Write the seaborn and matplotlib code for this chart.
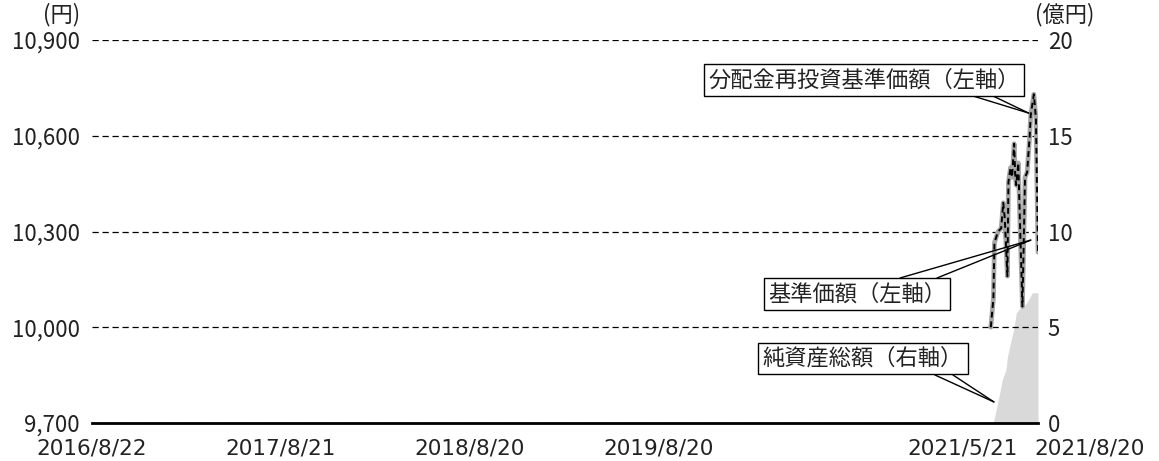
import matplotlib
matplotlib.use("Agg")
import matplotlib.pyplot as plt
import matplotlib.transforms as mtransforms
import matplotlib.ticker as mticker
import seaborn as sns
import pandas as pd

# ---------------- data ----------------
nav_dates = ["2021-05-21", "2021-05-26", "2021-05-28", "2021-06-04", "2021-06-10",
             "2021-06-14", "2021-06-17", "2021-06-22", "2021-06-24", "2021-06-28",
             "2021-07-01", "2021-07-05", "2021-07-07", "2021-07-09", "2021-07-13",
             "2021-07-16", "2021-07-21", "2021-07-26", "2021-07-30", "2021-08-04",
             "2021-08-06", "2021-08-12", "2021-08-16", "2021-08-18", "2021-08-20"]
nav_values = [10000, 10090, 10265, 10300, 10310,
              10390, 10340, 10160, 10455, 10500,
              10470, 10575, 10480, 10445, 10515,
              10340, 10065, 10470, 10485, 10600,
              10665, 10730, 10655, 10445, 10235]
# no distributions paid -> reinvested NAV equals NAV
nav_reinvested_values = list(nav_values)

asset_dates = ["2021-05-25", "2021-05-27", "2021-06-06", "2021-06-12", "2021-06-19",
               "2021-06-22", "2021-06-29", "2021-07-05", "2021-07-09", "2021-07-18",
               "2021-07-26", "2021-08-03", "2021-08-09", "2021-08-18", "2021-08-20"]
asset_values = [0.0, 0.15, 1.4, 2.25, 2.75,
                3.45, 4.3, 5.0, 5.75, 6.05,
                6.15, 6.5, 6.8, 6.8, 6.8]

x_tick_dates = ["2016-08-22", "2017-08-21", "2018-08-20", "2019-08-20", "2021-05-21", "2021-08-20"]
x_tick_labels = ["2016/8/22", "2017/8/21", "2018/8/20", "2019/8/20", "2021/5/21", "2021/8/20"]
left_ticks = [9700, 10000, 10300, 10600, 10900]
right_ticks = [0, 5, 10, 15, 20]

label_reinv = "分配金再投資基準価額（左軸）"
label_nav = "基準価額（左軸）"
label_assets = "純資産総額（右軸）"

# callout targets (date, value)
callout_reinv_target = ("2021-08-02", 10671)
callout_nav_target = ("2021-08-06", 10273)
callout_assets_target = ("2021-05-27", 1.1)

# ---------------- style ----------------
sns.set_style("white")
plt.rcParams["font.family"] = ["Noto Sans CJK JP", "DejaVu Sans"]
FS = 16
TXT = "#222222"

df = pd.DataFrame({"date": pd.to_datetime(nav_dates),
                   "nav": nav_values,
                   "reinv": nav_reinvested_values})
adf = pd.DataFrame({"date": pd.to_datetime(asset_dates), "assets": asset_values})

W, H = 1159, 461
L, R, B, T = 92, 1038, 423, 40   # axes box in pixels (top-left origin)
fig, ax = plt.subplots(figsize=(W / 100, H / 100), dpi=100)
fig.subplots_adjust(left=L / W, right=R / W, bottom=(H - B) / H, top=(H - T) / H)
ax2 = ax.twinx()

def afrac(px, py):
    return ((px - L) / (R - L), (B - py) / (B - T))

# area (right axis)
ax2.fill_between(adf["date"], adf["assets"], 0, color="#d9d9d9", lw=0)
ax2.set_ylim(0, 20)
ax2.set_yticks(right_ticks)
ax2.tick_params(axis="y", length=0, pad=7, labelsize=FS, colors=TXT)
for s in ax2.spines.values():
    s.set_visible(False)

# lines (left axis)
ax.set_zorder(ax2.get_zorder() + 1)
ax.patch.set_visible(False)
sns.lineplot(data=df, x="date", y="nav", ax=ax, color="#a6a6a6", lw=3.4, zorder=3)
sns.lineplot(data=df, x="date", y="reinv", ax=ax, color="black", lw=1.4, zorder=4)
ax.lines[-1].set_linestyle((0, (3, 2)))

ax.set_ylim(9700, 10900)
ax.set_yticks(left_ticks)
ax.yaxis.set_major_formatter(mticker.FuncFormatter(lambda v, p: f"{int(v):,}"))
ax.set_xlim(pd.Timestamp("2016-08-22"), pd.Timestamp("2021-08-20"))
ax.set_xticks(pd.to_datetime(x_tick_dates))
ax.set_xticklabels(x_tick_labels, fontfamily="DejaVu Sans")
for a in (ax, ax2):
    a.set_xlabel("")
    a.set_ylabel("")

ax.grid(axis="y", color="black", lw=0.9, linestyle=(0, (5, 3)))
ax.grid(axis="x", visible=False)
ax.tick_params(axis="y", length=0, pad=9, labelsize=FS, colors=TXT)
ax.tick_params(axis="x", direction="in", length=6, width=1.8, pad=11.2,
               labelsize=15.5, colors=TXT, color="black")
for k in ["left", "right", "top"]:
    ax.spines[k].set_visible(False)
ax.spines["bottom"].set_linewidth(2)
ax.spines["bottom"].set_color("black")

# shift the two crowded right-most date labels apart
xt = ax.get_xticklabels()
xt[4].set_transform(xt[4].get_transform() + mtransforms.ScaledTranslation(-28 / 100, 0, fig.dpi_scale_trans))
xt[5].set_transform(xt[5].get_transform() + mtransforms.ScaledTranslation(52 / 100, 0, fig.dpi_scale_trans))

# unit labels
ax.text(*afrac(80, 15), "(円)", transform=ax.transAxes, ha="right", va="center",
        fontsize=FS, color=TXT)
ax2.text(*afrac(1035, 15), "(億円)", transform=ax.transAxes, ha="left", va="center",
         fontsize=FS, color=TXT)

# callouts: boxed text + two-line tail
def callout(axis, text, target, center, bases):
    ax.text(*afrac(*center), text, transform=ax.transAxes, ha="center", va="center",
            fontsize=FS, color=TXT, zorder=10,
            bbox=dict(boxstyle="square,pad=0.2", fc="white", ec="black", lw=1))
    for bx, by in bases:
        axis.annotate("", xy=(pd.Timestamp(target[0]), target[1]), xycoords="data",
                      xytext=afrac(bx, by), textcoords=ax.transAxes,
                      arrowprops=dict(arrowstyle="-", color="black", lw=1,
                                      shrinkA=0, shrinkB=0), zorder=9)

callout(ax, label_reinv, callout_reinv_target, (864, 80), [(973, 96), (993, 96)])
callout(ax, label_nav, callout_nav_target, (857, 294), [(900, 278), (937, 278)])
callout(ax2, label_assets, callout_assets_target, (863, 358.5), [(935, 375), (953, 375)])

fig.savefig("out.png", dpi=100)
